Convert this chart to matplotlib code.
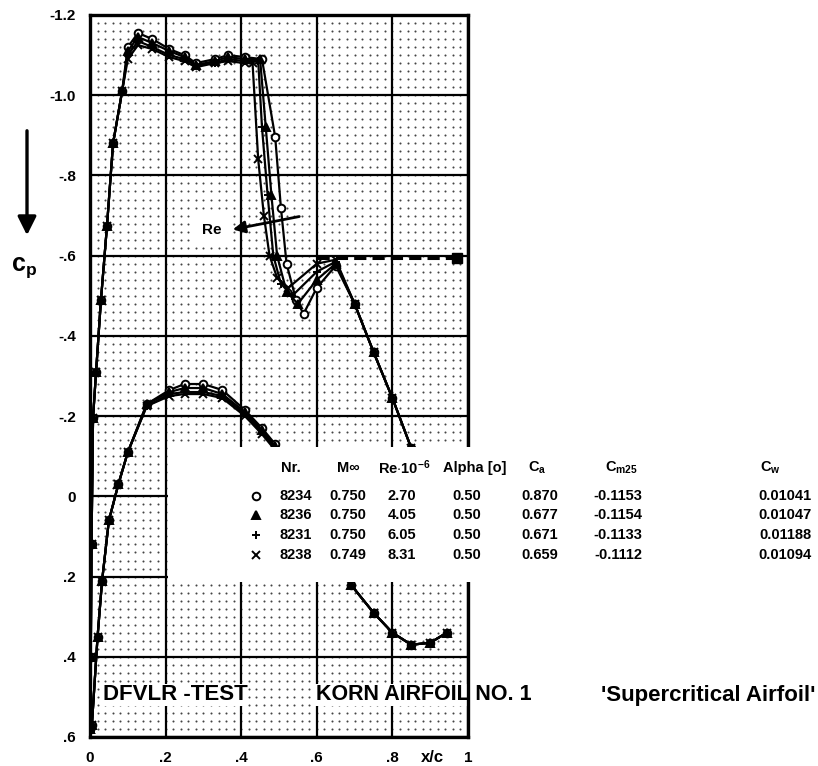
import numpy as np
import matplotlib.pyplot as plt

plt.rcParams['font.family'] = ['Liberation Sans', 'DejaVu Sans']
plt.rcParams['font.weight'] = 'bold'
plt.rcParams['mathtext.fontset'] = 'custom'
plt.rcParams['mathtext.rm'] = 'Liberation Sans:bold'
plt.rcParams['mathtext.it'] = 'Liberation Sans:bold'
plt.rcParams['mathtext.bf'] = 'Liberation Sans:bold'

# Run table
runs = ["8234", "8236", "8231", "8238"]
markers = ["o", "^", "+", "x"]
mach = ["0.750", "0.750", "0.750", "0.749"]
re6 = ["2.70", "4.05", "6.05", "8.31"]
alpha = ["0.50", "0.50", "0.50", "0.50"]
ca = ["0.870", "0.677", "0.671", "0.659"]
cm25 = ["-0.1153", "-0.1154", "-0.1133", "-0.1112"]
cw = ["0.01041", "0.01047", "0.01188", "0.01094"]

# Upper surface, leading edge to shock
x_up_front = [0.0, 0.002, 0.004, 0.008, 0.016, 0.029, 0.045, 0.061, 0.085, 0.10,
              0.127, 0.165, 0.21, 0.25, 0.28, 0.33, 0.365, 0.41]
cp_up_front = {
    "8234": [0.58, 0.40, 0.12, -0.195, -0.31, -0.49, -0.675, -0.88, -1.01, -1.12,
             -1.155, -1.14, -1.115, -1.10, -1.08, -1.09, -1.10, -1.095],
    "8236": [0.58, 0.40, 0.12, -0.195, -0.31, -0.49, -0.675, -0.88, -1.01, -1.11,
             -1.145, -1.13, -1.11, -1.095, -1.075, -1.085, -1.095, -1.09],
    "8231": [0.58, 0.40, 0.12, -0.195, -0.31, -0.49, -0.675, -0.88, -1.01, -1.10,
             -1.135, -1.12, -1.10, -1.09, -1.075, -1.08, -1.09, -1.085],
    "8238": [0.58, 0.40, 0.12, -0.195, -0.31, -0.49, -0.675, -0.88, -1.01, -1.09,
             -1.125, -1.115, -1.095, -1.085, -1.07, -1.08, -1.085, -1.08],
}
# Upper surface, shock region
x_shock = {
    "8234": [0.455, 0.49, 0.505, 0.52, 0.545, 0.565, 0.60, 0.65],
    "8236": [0.45, 0.465, 0.48, 0.495, 0.52, 0.55, 0.60, 0.65],
    "8231": [0.445, 0.455, 0.47, 0.485, 0.505, 0.535, 0.60, 0.65],
    "8238": [0.43, 0.445, 0.46, 0.475, 0.495, 0.525, 0.60, 0.65],
}
cp_shock = {
    "8234": [-1.09, -0.895, -0.72, -0.58, -0.49, -0.455, -0.52, -0.575],
    "8236": [-1.09, -0.92, -0.75, -0.60, -0.51, -0.48, -0.54, -0.58],
    "8231": [-1.085, -0.92, -0.75, -0.60, -0.53, -0.50, -0.56, -0.585],
    "8238": [-1.08, -0.84, -0.70, -0.60, -0.545, -0.52, -0.58, -0.59],
}
# Upper surface rear (common)
x_up_rear = [0.70, 0.75, 0.80, 0.85, 0.90, 0.95]
cp_up_rear = [-0.48, -0.36, -0.245, -0.12, 0.03, 0.18]

# Lower surface
x_lo = [0.0, 0.005, 0.02, 0.032, 0.05, 0.075, 0.10, 0.15, 0.21, 0.25, 0.30, 0.35,
        0.41, 0.455, 0.49, 0.55, 0.62, 0.69, 0.75, 0.80, 0.85, 0.90, 0.944]
cp_lo = {
    "8234": [0.58, 0.57, 0.35, 0.21, 0.06, -0.03, -0.11, -0.23, -0.265, -0.28, -0.28, -0.265,
             -0.215, -0.17, -0.13, -0.05, 0.08, 0.22, 0.29, 0.34, 0.37, 0.365, 0.34],
    "8236": [0.58, 0.57, 0.35, 0.21, 0.06, -0.03, -0.11, -0.23, -0.26, -0.27, -0.27, -0.255,
             -0.21, -0.165, -0.125, -0.05, 0.08, 0.22, 0.29, 0.34, 0.37, 0.365, 0.34],
    "8231": [0.58, 0.57, 0.35, 0.21, 0.06, -0.03, -0.11, -0.225, -0.255, -0.26, -0.26, -0.25,
             -0.205, -0.16, -0.12, -0.05, 0.08, 0.22, 0.29, 0.34, 0.37, 0.365, 0.34],
    "8238": [0.58, 0.57, 0.35, 0.21, 0.06, -0.03, -0.11, -0.225, -0.25, -0.255, -0.255, -0.245,
             -0.20, -0.155, -0.115, -0.05, 0.08, 0.22, 0.29, 0.34, 0.37, 0.365, 0.34],
}
# sonic pressure coefficient line
x_sonic = [0.60, 0.97]
cp_sonic = -0.595

xticks = [0, 0.2, 0.4, 0.6, 0.8, 1.0]
xticklabels = ["0", ".2", ".4", ".6", ".8", "1"]
yticks = [-1.2, -1.0, -0.8, -0.6, -0.4, -0.2, 0, 0.2, 0.4, 0.6]
yticklabels = ["-1.2", "-1.0", "-.8", "-.6", "-.4", "-.2", "0", ".2", ".4", ".6"]

W, H = 818, 766
fig = plt.figure(figsize=(W / 100, H / 100), dpi=100)
ax = fig.add_axes([90 / W, 1 - 737 / H, 378 / W, 722 / H])
ax.set_xlim(0, 1)
ax.set_ylim(0.6, -1.2)

# dotted background grid
gx, gy = np.meshgrid(np.arange(0, 1.0001, 0.02), np.arange(-1.2, 0.6001, 0.02))
ax.scatter(gx.ravel(), gy.ravel(), s=2.2, c="#444444", lw=0, zorder=1)

ax.set_xticks(xticks)
ax.set_xticklabels(xticklabels)
ax.set_yticks(yticks)
ax.set_yticklabels(yticklabels)
ax.grid(True, color="k", lw=1.6)
ax.tick_params(length=0, labelsize=11)
ax.tick_params(axis="x", pad=10)
ax.tick_params(axis="y", pad=10)
for s in ax.spines.values():
    s.set_linewidth(2.4)

for run, m in zip(runs, markers):
    mfc = "white" if m == "o" else "k"
    xu = x_up_front + x_shock[run] + x_up_rear
    cu = cp_up_front[run] + cp_shock[run] + cp_up_rear
    ax.plot(xu, cu, color="k", lw=1.6, marker=m, ms=5.5, mfc=mfc, mec="k", mew=1.4, zorder=3)
    ax.plot(x_lo, cp_lo[run], color="k", lw=1.6, marker=m, ms=5.5, mfc=mfc, mec="k",
            mew=1.4, zorder=3)

ax.plot(x_sonic, [cp_sonic, cp_sonic], color="k", lw=2.2, ls=(0, (4, 2)), zorder=3)
ax.plot(x_sonic[-1], cp_sonic, marker="s", color="k", ms=7, zorder=3)

# Re arrow and label
ax.annotate("", xy=(230, H - 230), xytext=(302, H - 216), xycoords="figure pixels",
            arrowprops=dict(arrowstyle="-|>", lw=2, color="k", mutation_scale=18))
fig.text(212 / W, 1 - 230 / H, "Re", fontsize=11, ha="center", va="center",
         bbox=dict(facecolor="white", edgecolor="none", pad=6))

# cp label and arrow on the left
ax.annotate("", xy=(27, H - 238), xytext=(27, H - 128), xycoords="figure pixels",
            arrowprops=dict(arrowstyle="-|>", lw=2.4, color="k", mutation_scale=28))
fig.text(24 / W, 1 - 268 / H, r"$\mathbf{c_p}$", fontsize=18, ha="center", va="center")
fig.text(432 / W, 1 - 757 / H, "x/c", fontsize=12, ha="center", va="center")

# bottom captions
ax.text(103 / W, 1 - 695 / H, "DFVLR -TEST", transform=fig.transFigure, fontsize=16,
        ha="left", va="center", zorder=2.2,
        bbox=dict(facecolor="white", edgecolor="none", pad=0.5))
ax.text(316 / W, 1 - 695 / H, "KORN AIRFOIL NO. 1", transform=fig.transFigure, fontsize=15.5,
        ha="left", va="center", zorder=2.2,
        bbox=dict(facecolor="white", edgecolor="none", pad=0.5))
ax.text(815 / W, 1 - 695 / H, "'Supercritical Airfoil'", transform=fig.transFigure,
        fontsize=16, ha="right", va="center", zorder=2.2)

# run table on a white panel
tab = fig.add_axes([168 / W, 1 - 582 / H, (W - 168) / W, 135 / H])
tab.set_zorder(5)
tab.set_facecolor("white")
tab.set_xlim(168, W)
tab.set_ylim(582, 447)
tab.set_xticks([])
tab.set_yticks([])
for s in tab.spines.values():
    s.set_visible(False)

head_y = 468
row_y = [496, 515, 535, 555]
heads = [(291, "Nr."), (348, "M∞"), (404, r"Re$\cdot$10$^{-6}$"), (475, "Alpha [o]"),
         (537, r"C$_\mathrm{a}$"), (621, r"C$_\mathrm{m25}$"), (770, r"C$_\mathrm{w}$")]
for hx, txt in heads:
    tab.text(hx, head_y, txt, fontsize=10.5, ha="center", va="center")

cols = [(296, runs), (348, mach), (402, re6), (467, alpha), (540, ca), (618, cm25), (785, cw)]
for i, (m, y) in enumerate(zip(markers, row_y)):
    mfc = "white" if m == "o" else "k"
    tab.plot(256, y, marker=m, color="k", ms=5.5, mfc=mfc, mew=1.4)
    for cx, vals in cols:
        tab.text(cx, y, vals[i], fontsize=10.5, ha="center", va="center")

plt.savefig("out.png", dpi=100)
